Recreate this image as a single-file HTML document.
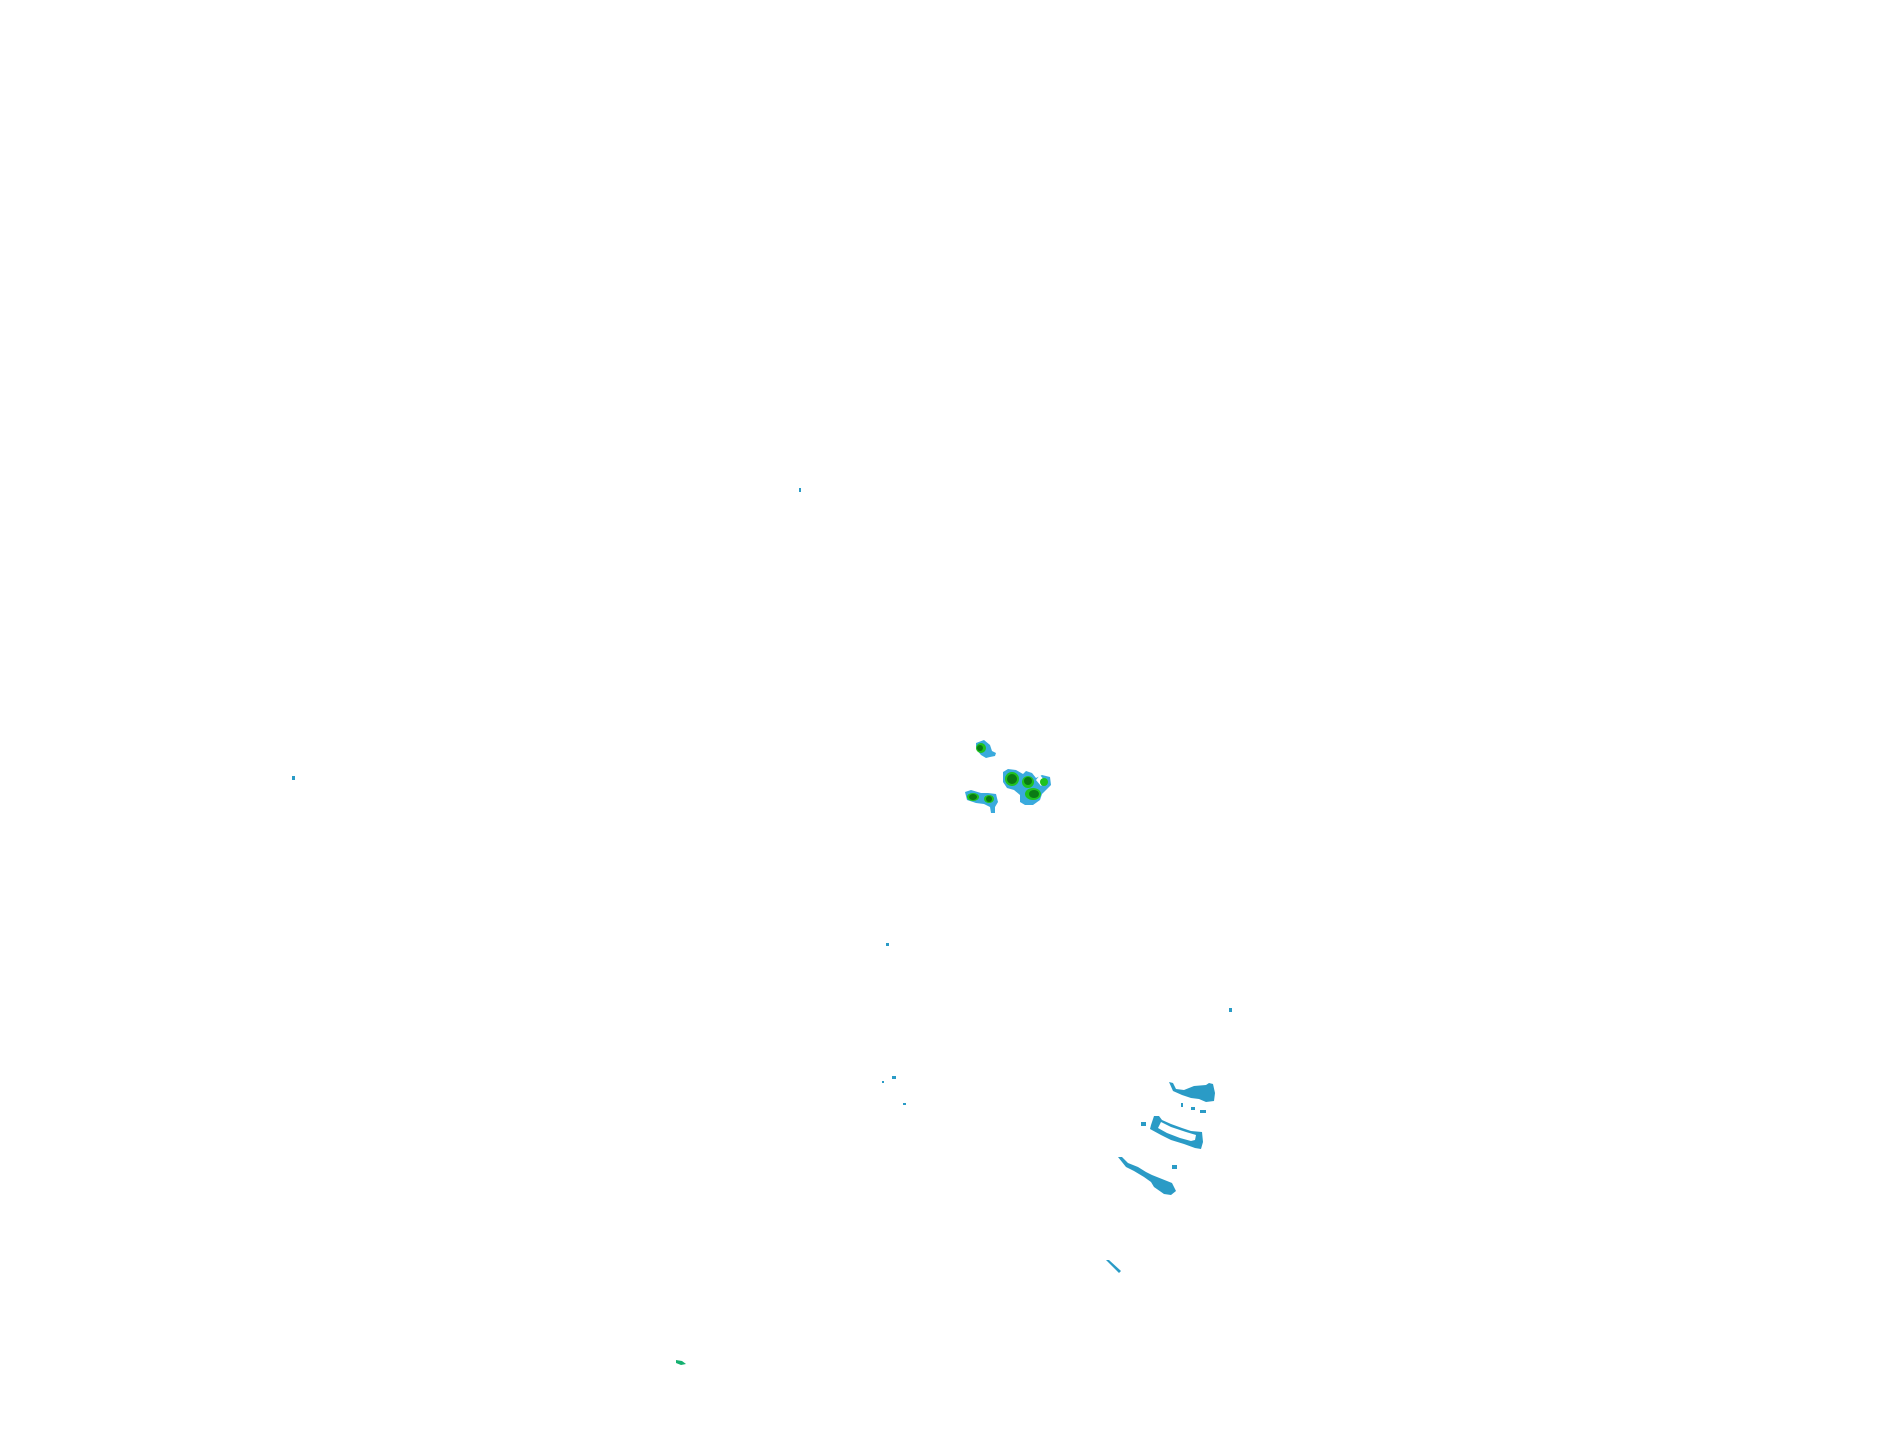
<!DOCTYPE html>
<html><head><style>html,body{margin:0;padding:0;background:#fff;}svg{display:block}</style></head>
<body>
<svg width="1904" height="1441" viewBox="0 0 1904 1441" xmlns="http://www.w3.org/2000/svg">
<rect width="1904" height="1441" fill="#fff"/>
<g transform="translate(-4,-3)">
<g>
<path d="M980,746 L988,743 L994,748 L996,754 L1000,756 L999,759 L994,760 L990,761 L985,758 L980,752 Z" fill="#3aaadd"/>
<ellipse cx="985" cy="751" rx="5" ry="5" fill="#1fc21f"/>
<ellipse cx="984" cy="751" rx="3" ry="3" fill="#0a7a14"/>
<path d="M1007,775 L1012,772 L1020,773 L1027,777 L1030,774 L1036,776 L1040,781 L1046,778 L1054,780 L1055,788 L1050,793 L1046,797 L1044,803 L1037,808 L1029,808 L1024,805 L1024,798 L1018,793 L1011,791 L1007,785 Z" fill="#3aaadd"/>
<path d="M1040,783 L1044,778 L1049,784 L1045,789 Z" fill="#fff"/>
<ellipse cx="1016" cy="782" rx="7" ry="7" fill="#1fc21f"/>
<ellipse cx="1016" cy="782" rx="5" ry="5" fill="#0a7a14"/>
<ellipse cx="1032" cy="785" rx="6" ry="6" fill="#1fc21f"/>
<ellipse cx="1032" cy="784" rx="4" ry="4" fill="#0a7a14"/>
<ellipse cx="1037" cy="797" rx="8" ry="6" fill="#1fc21f"/>
<ellipse cx="1038" cy="797" rx="5" ry="4" fill="#0a7a14"/>
<ellipse cx="1048" cy="785" rx="4" ry="4" fill="#1fc21f"/>
<path d="M969,795 L975,793 L985,796 L992,796 L1000,797 L1002,805 L999,810 L999,816 L995,816 L994,810 L988,807 L980,806 L971,803 Z" fill="#3aaadd"/>
<ellipse cx="977" cy="800" rx="6" ry="4" fill="#1fc21f"/>
<ellipse cx="977" cy="800" rx="4" ry="3" fill="#0a7a14"/>
<ellipse cx="993" cy="802" rx="5" ry="4" fill="#1fc21f"/>
<ellipse cx="993" cy="802" rx="3" ry="3" fill="#0a7a14"/>
</g>
<g fill="#2a9bc6">
<path d="M1173,1085 L1177,1086 L1180,1092 L1188,1093 L1198,1089 L1210,1088 L1213,1086 L1217,1087 L1219,1096 L1218,1104 L1210,1105 L1203,1102 L1195,1101 L1186,1098 L1177,1094 Z"/>
<rect x="1185" y="1106" width="2" height="4"/>
<rect x="1195" y="1110" width="4" height="3"/>
<rect x="1204" y="1113" width="6" height="3"/>
<path d="M1158,1119 L1163,1119 L1166,1123 L1175,1127 L1186,1131 L1195,1134 L1206,1135 L1207,1145 L1205,1152 L1199,1151 L1188,1147 L1175,1143 L1165,1138 L1154,1132 L1155,1128 Z M1165,1125 L1162,1131 L1171,1136 L1184,1141 L1195,1144 L1199,1143 L1200,1138 L1190,1135 L1175,1130 Z" fill-rule="evenodd"/>
<rect x="1145" y="1125" width="5" height="4"/>
<path d="M1122,1160 L1126,1160 L1132,1166 L1142,1170 L1150,1175 L1156,1178 L1166,1182 L1176,1186 L1180,1194 L1175,1198 L1168,1197 L1158,1190 L1155,1185 L1148,1180 L1138,1174 L1130,1170 Z"/>
<rect x="1176" y="1168" width="5" height="4"/>
<path d="M1110,1263 L1113,1263 L1125,1274 L1123,1276 Z"/>
</g>
<g fill="#2a9bc6">
<rect x="803" y="491" width="2" height="4"/>
<rect x="296" y="779" width="3" height="4"/>
<rect x="890" y="946" width="3" height="3"/>
<rect x="1233" y="1011" width="3" height="4"/>
<rect x="896" y="1079" width="4" height="3"/>
<rect x="886" y="1084" width="2" height="2"/>
<rect x="907" y="1106" width="3" height="2"/>
</g>
<path d="M680,1363 L686,1364 L690,1367 L685,1368 L680,1366 Z" fill="#15b070"/>
</g>
</svg>
</body></html>
